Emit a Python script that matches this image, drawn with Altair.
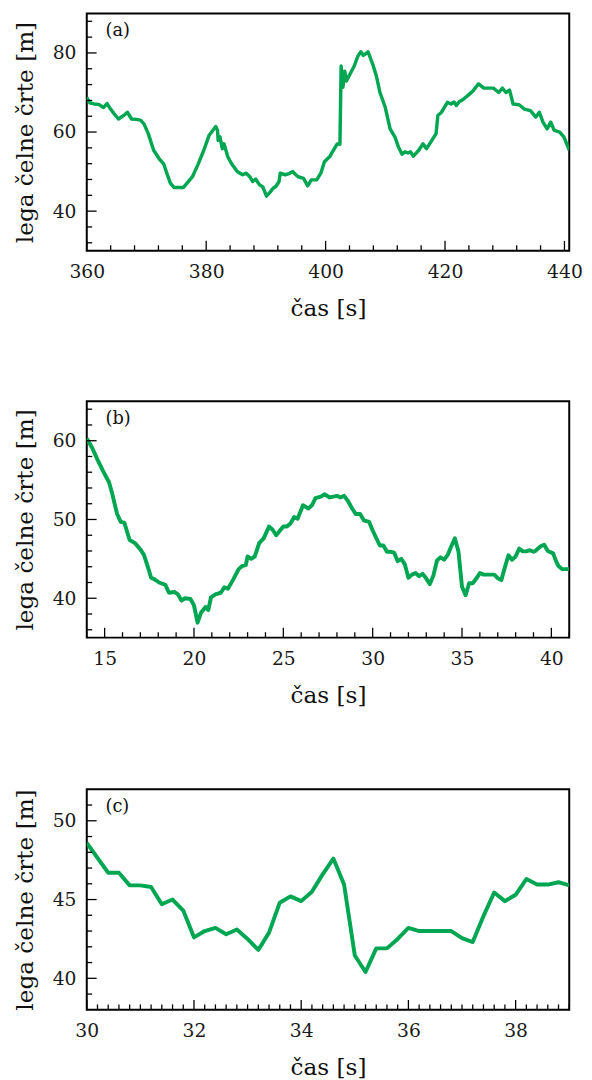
import altair as alt
import pandas as pd

# ---------------- data ----------------
# panel (a)
a_t = [360.0, 360.5, 361.2, 362.0, 362.8, 363.4, 364.0, 364.6, 365.3, 365.8, 366.2, 366.8,
       367.5, 368.3, 369.0, 369.6, 370.3, 371.2, 372.1, 372.9, 373.4, 374.0, 374.6, 375.4,
       376.2, 376.8, 377.7, 378.6, 379.6, 380.5, 381.1, 381.6, 381.9, 382.0, 382.3, 382.7,
       383.0, 383.6, 384.2, 385.2, 386.1, 386.7, 387.3, 387.8, 388.3, 388.9, 389.5, 390.1,
       390.7, 391.2, 391.7, 392.2, 392.4, 393.2, 393.9, 394.5, 395.0, 395.4, 396.3, 397.0,
       397.6, 398.5, 399.2, 399.8, 400.7, 401.3, 401.95, 402.4, 402.6, 402.9, 403.2, 403.5,
       404.2, 404.8, 405.4, 405.9, 406.3, 406.7, 407.1, 407.9, 408.5, 409.1, 410.0, 410.8,
       411.6, 412.2, 412.8, 413.3, 413.8, 414.2, 414.7, 415.6, 416.3, 416.9, 417.8, 418.5,
       418.8, 419.4, 420.4, 421.0, 421.5, 421.9, 422.4, 422.9, 423.8, 424.7, 425.6, 426.5,
       427.3, 428.1, 429.0, 429.6, 430.2, 430.8, 431.4, 432.4, 433.3, 434.3, 435.2, 435.8,
       436.4, 437.1, 437.7, 438.3, 439.2, 439.9, 440.8]
a_y = [68.8, 67.4, 67.1, 67.0, 66.2, 67.2, 65.8, 64.6, 63.3, 63.8, 64.2, 65.0,
       63.3, 63.2, 63.0, 62.0, 59.6, 55.4, 53.3, 51.9, 49.6, 47.1, 46.0, 46.0,
       46.0, 47.1, 48.7, 51.7, 55.4, 59.2, 60.4, 61.4, 60.4, 57.9, 58.8, 55.8,
       57.0, 53.8, 52.1, 50.0, 49.2, 49.6, 48.7, 47.5, 48.1, 46.7, 46.1, 43.8,
       44.8, 45.8, 46.3, 47.5, 49.6, 49.2, 49.5, 50.0, 49.2, 48.7, 48.3, 46.4,
       47.9, 47.9, 49.6, 52.5, 53.8, 55.4, 57.0, 56.9, 76.7, 71.3, 75.4, 72.9,
       75.0, 76.7, 79.2, 80.3, 79.4, 79.8, 80.3, 77.1, 74.2, 70.0, 66.2, 60.8,
       58.8, 56.2, 54.4, 55.0, 54.7, 55.0, 53.9, 55.4, 57.0, 55.8, 57.9, 59.6,
       64.2, 65.0, 67.5, 67.1, 67.6, 66.7, 67.7, 68.1, 69.2, 70.4, 72.2, 71.1,
       71.1, 71.1, 70.0, 71.1, 70.0, 70.6, 67.1, 66.9, 65.8, 65.4, 63.8, 65.0,
       62.5, 60.8, 62.5, 60.4, 60.0, 58.8, 55.4]

# panel (b): head (14-29.8 s), middle shared with panel (c), tail (39.1-41 s)
b_head_t = [14.0, 14.3, 14.6, 14.9, 15.25, 15.4, 15.6, 15.7, 15.9, 16.1, 16.4, 16.7, 17.0,
            17.2, 17.4, 17.6, 17.8, 18.05, 18.4, 18.6, 18.9, 19.1, 19.3, 19.5, 19.8, 20.0,
            20.1, 20.2, 20.4, 20.65, 20.8, 20.95, 21.2, 21.5, 21.7, 21.9, 22.2, 22.5, 22.7,
            22.9, 23.0, 23.2, 23.4, 23.65, 23.9, 24.2, 24.4, 24.6, 25.0, 25.2, 25.4, 25.6,
            25.8, 26.1, 26.4, 26.6, 26.8, 27.1, 27.3, 27.6, 28.0, 28.2, 28.4, 28.6, 28.85,
            29.05, 29.3, 29.5, 29.8]
b_head_y = [60.3, 59.1, 57.6, 56.2, 54.7, 53.5, 51.6, 50.7, 49.7, 49.6, 47.4, 47.0, 46.2,
            45.5, 44.1, 42.6, 42.4, 42.0, 41.7, 40.7, 40.8, 40.5, 39.7, 40.0, 39.9, 39.1,
            38.0, 36.9, 38.2, 38.9, 38.5, 40.1, 40.5, 40.7, 41.4, 41.2, 42.4, 43.7, 44.1,
            44.2, 45.3, 45.0, 45.3, 47.0, 47.6, 49.1, 48.7, 48.0, 49.1, 49.1, 49.5, 50.3,
            50.1, 51.8, 51.4, 51.8, 52.7, 52.9, 53.2, 52.8, 53.0, 52.8, 53.0, 52.4, 51.4,
            50.7, 50.7, 49.9, 49.7]
b_tail_t = [39.1, 39.4, 39.6, 39.8, 40.1, 40.3, 40.4, 40.6, 41.0]
b_tail_y = [46.0, 46.6, 46.8, 46.0, 45.7, 44.5, 44.1, 43.7, 43.7]

# panel (c)
c_t = [30.0, 30.2, 30.4, 30.6, 30.8, 31.0, 31.2, 31.4, 31.6, 31.8, 32.0, 32.2, 32.4,
       32.6, 32.8, 33.0, 33.2, 33.4, 33.6, 33.8, 34.0, 34.2, 34.4, 34.6, 34.8, 35.0,
       35.2, 35.4, 35.6, 35.8, 36.0, 36.2, 36.4, 36.6, 36.8, 37.0, 37.2, 37.4, 37.6,
       37.8, 38.0, 38.2, 38.4, 38.6, 38.8, 39.0]
c_y = [48.6, 47.65, 46.7, 46.7, 45.9, 45.9, 45.8, 44.7, 45.0, 44.3, 42.6, 43.0, 43.2,
       42.8, 43.1, 42.5, 41.8, 42.9, 44.8, 45.2, 44.9, 45.5, 46.6, 47.6, 45.95, 41.45,
       40.4, 41.9, 41.9, 42.5, 43.2, 43.0, 43.0, 43.0, 43.0, 42.55, 42.3, 43.95, 45.45,
       44.9, 45.3, 46.3, 45.95, 45.95, 46.1, 45.9]

b_t = b_head_t + c_t + b_tail_t
b_y = b_head_y + c_y + b_tail_y

# tick values
a_xmaj = [360, 380, 400, 420, 440]
a_xmin = [364, 368, 372, 376, 384, 388, 392, 396, 404, 408, 412, 416, 424, 428, 432, 436]
a_ymaj = [40, 60, 80]
a_ymin = [32, 36, 44, 48, 52, 56, 64, 68, 72, 76, 84, 88]

b_xmaj = [15, 20, 25, 30, 35, 40]
b_xmin = [v for v in range(14, 42) if v % 5 != 0]
b_ymaj = [40, 50, 60]
b_ymin = [36, 38, 42, 44, 46, 48, 52, 54, 56, 58, 62, 64]

c_xmaj = [30, 32, 34, 36, 38]
c_xmin = [round(30 + 0.2 * i, 1) for i in range(46) if i % 10 != 0]
c_ymaj = [40, 45, 50]
c_ymin = [39, 41, 42, 43, 44, 46, 47, 48, 49, 51]

GREEN = "#00a651"
FONT = "DejaVu Serif"
W = 490
XTITLE = "čas [s]"
YTITLE = "lega čelne črte [m]"


def make_axis(vals, is_x):
    return alt.Axis(
        values=vals, format="d",
        labelFont=FONT, labelFontSize=19, labelColor="#1a1a1a", labelFlush=False,
        titleFont=FONT, titleFontSize=23.5, titleFontWeight="normal", titleColor="#111111",
        labelPadding=12 if is_x else 11, titlePadding=16 if is_x else 15,
        grid=False, domain=False, ticks=False, tickSize=0,
    )


def panel(t, y, xdom, ydom, xmaj, xmin, ymaj, ymin, label, h, sw):
    xs = alt.Scale(domain=xdom, nice=False, zero=False)
    ys = alt.Scale(domain=ydom, nice=False, zero=False)
    xax = make_axis(xmaj, True)
    yax = make_axis(ymaj, False)

    line = alt.Chart(pd.DataFrame({"t": t, "y": y})).mark_line(
        color=GREEN, strokeWidth=sw, strokeJoin="round", clip=True
    ).encode(
        x=alt.X("t:Q", scale=xs, title=XTITLE, axis=xax),
        y=alt.Y("y:Q", scale=ys, title=YTITLE, axis=yax),
    )

    def xt(vals, size):
        return alt.Chart(pd.DataFrame({"t": vals})).mark_rule(
            color="black", strokeWidth=1.3
        ).encode(
            x=alt.X("t:Q", scale=xs, title=XTITLE, axis=xax),
            y=alt.value(h),
            y2=alt.value(h - size),
        )

    def yt(vals, size):
        return alt.Chart(pd.DataFrame({"y": vals})).mark_rule(
            color="black", strokeWidth=1.3
        ).encode(
            y=alt.Y("y:Q", scale=ys, title=YTITLE, axis=yax),
            x=alt.value(0),
            x2=alt.value(size),
        )

    tag = alt.Chart(pd.DataFrame({"label": [label]})).mark_text(
        font=FONT, fontSize=18, align="left", baseline="alphabetic", color="#111111"
    ).encode(
        text="label:N",
        x=alt.value(19),
        y=alt.value(23),
    )

    return alt.layer(
        line, xt(xmaj, 10), xt(xmin, 5.5), yt(ymaj, 10), yt(ymin, 5.5), tag
    ).properties(width=W, height=h)


pa = panel(a_t, a_y, [360, 440.8], [30, 90], a_xmaj, a_xmin, a_ymaj, a_ymin, "(a)", 241, 3.5)
pb = panel(b_t, b_y, [14, 41], [35, 65], b_xmaj, b_xmin, b_ymaj, b_ymin, "(b)", 240, 4)
pc = panel(c_t, c_y, [30, 39], [38, 52], c_xmaj, c_xmin, c_ymaj, c_ymin, "(c)", 224, 4)

chart = alt.vconcat(pa, pb, pc, spacing=80).properties(
    padding={"left": 4, "top": -4, "right": 0, "bottom": 4}
).configure(
    font=FONT
).configure_view(
    stroke="black", strokeWidth=2
)

chart.save("out.html", embed_options={"renderer": "svg", "actions": False})
